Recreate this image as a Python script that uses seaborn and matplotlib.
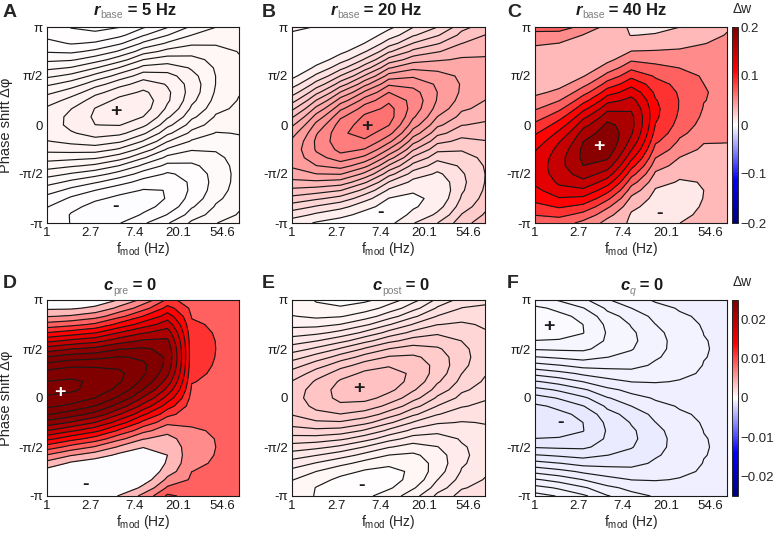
import numpy as np
import matplotlib
matplotlib.use("Agg")
import matplotlib.pyplot as plt
import seaborn as sns
from matplotlib.colors import LinearSegmentedColormap, Normalize
from matplotlib.cm import ScalarMappable
from matplotlib.transforms import IdentityTransform

sns.set_theme(style="ticks")
plt.rcParams['font.family'] = ['Liberation Sans', 'DejaVu Sans']
plt.rcParams['mathtext.fontset'] = 'custom'
plt.rcParams['mathtext.rm'] = 'Liberation Sans'
plt.rcParams['mathtext.it'] = 'Liberation Sans:italic'
plt.rcParams['mathtext.bf'] = 'Liberation Sans:bold'

# ---------------- data ----------------
f_mod_hz = [1.0, 1.73, 3.0, 5.2, 9.0, 15.6, 27.1, 47.0, 80.0]   # frequency nodes
phase_rows = np.linspace(-np.pi, np.pi, 25)                      # phase grid rows

x_tick_vals = [1.0, 2.718, 7.389, 20.09, 54.6]
x_tick_labels = ['1', '2.7', '7.4', '20.1', '54.6']
x_minor_vals = [1.649, 4.482, 12.18, 33.12]
y_tick_vals = [-np.pi, -np.pi / 2, 0.0, np.pi / 2, np.pi]
y_tick_labels = ['-π', '-π/2', '0', 'π/2', 'π']

# per frequency node: value on the ridge (max over phase), value in the basin
# (min over phase) and phase of the ridge (rad)
A_unit = 7e-4
A_ridge = [8.6, 9.3, 10.2, 10.6, 10.5, 9.2, 7.5, 6.0, 5.2]
A_basin = [0.6, -0.1, -0.5, -0.6, -0.4, 0.0, 1.2, 2.4, 3.4]
A_theta = [0.05, 0.15, 0.28, 0.45, 0.70, 0.95, 1.20, 1.45, 1.60]
A_levels = [0, 1, 2, 3, 4, 5, 6, 7, 8, 9, 10]

B_unit = 1e-3
B_ridge = [42.5, 51.0, 59.5, 62.5, 62.0, 53.0, 45.0, 39.5, 37.0]
B_basin = [-1.0, 0.0, 1.0, 1.75, 2.0, 4.0, 6.0, 14.0, 20.0]
B_theta = [-0.90, -0.60, -0.35, -0.05, 0.35, 0.70, 1.00, 1.30, 1.50]
B_levels = [5, 10, 15, 20, 25, 30, 35, 40, 45, 50, 55, 60]

C_unit = 1e-3
C_ridge = [128, 155, 186, 196, 166, 104, 79, 61, 55]
C_basin = [24, 23, 22, 22, 16, 10, 12, 20, 30]
C_theta = [-1.40, -1.25, -0.92, -0.50, 0.05, 0.45, 0.70, 1.00, 1.20]
C_levels = [20, 40, 60, 80, 100, 120, 140, 160, 180]

D_unit = 1e-3
D_ridge = [33.0, 33.0, 32.0, 30.5, 28.0, 24.5, 11.0, 10.0, 10.0]
D_basin = [-0.5, -1.5, -1.5, -1.0, 0.0, 2.5, 7.0, 7.5, 7.5]
D_theta = [0.30, 0.40, 0.50, 0.70, 0.95, 1.30, 1.50, 1.60, 1.60]
D_levels = [2.5, 5, 7.5, 10, 12.5, 15, 17.5, 20, 22.5, 25, 27.5, 30, 32.5]

E_unit = 1e-4
E_ridge = [28.8, 31.8, 34.2, 35.1, 34.5, 32.4, 28.8, 24.9, 22.2]
E_basin = [4.5, 2.7, 1.5, 1.2, 1.8, 3.6, 7.5, 11.4, 13.5]
E_theta = [0.00, 0.10, 0.22, 0.38, 0.58, 0.80, 1.05, 1.30, 1.45]
E_levels = [3, 6, 9, 12, 15, 18, 21, 24, 27, 30, 33]

F_unit = 1e-4
F_ridge = [-2.7, -3.0, -3.45, -4.6, -5.3, -6.2, -6.9, -7.45, -7.7]
F_basin = [-13.3, -13.0, -12.55, -11.4, -10.7, -9.8, -9.1, -8.55, -8.3]
F_theta = [2.40, 2.32, 2.20, 2.05, 1.90, 1.78, 1.68, 1.60, 1.55]
F_levels = [-12.5, -11.5, -10.5, -9.5, -8.5, -7.5, -6.5, -5.5, -4.5, -3.5]

# marker positions (Hz, rad)
A_plus, A_minus = (4.85, 0.42), (4.8, -2.62)
B_plus, B_minus = (5.4, -0.05), (7.4, -2.80)
C_plus, C_minus = (4.26, -0.69), (17.3, -2.85)
D_plus, D_minus = (1.35, 0.18), (2.39, -2.78)
E_plus, E_minus = (4.6, 0.30), (4.8, -2.80)
F_plus, F_minus = (1.38, 2.30), (1.77, -0.77)

titles = [("r", "base", " = 5 Hz"), ("r", "base", " = 20 Hz"), ("r", "base", " = 40 Hz"),
          ("c", "pre", " = 0"), ("c", "post", " = 0"), ("c", "q", " = 0")]
title_centers_px = [135, 376, 621, 130, 401, 642]
letters = ["A", "B", "C", "D", "E", "F"]
letter_x_px = [3, 262, 507, 3, 262, 507]

panels = [
    (A_ridge, A_basin, A_theta, A_levels, A_unit, A_plus, A_minus, 'k'),
    (B_ridge, B_basin, B_theta, B_levels, B_unit, B_plus, B_minus, 'k'),
    (C_ridge, C_basin, C_theta, C_levels, C_unit, C_plus, C_minus, 'w'),
    (D_ridge, D_basin, D_theta, D_levels, D_unit, D_plus, D_minus, 'w'),
    (E_ridge, E_basin, E_theta, E_levels, E_unit, E_plus, E_minus, 'k'),
    (F_ridge, F_basin, F_theta, F_levels, F_unit, F_plus, F_minus, 'k'),
]

# ---------------- figure ----------------
W, H = 780, 537
fig = plt.figure(figsize=(W / 100, H / 100), dpi=100)

cmap = LinearSegmentedColormap.from_list(
    "bwr_dark", [(0.0, (0, 0, 0.5)), (0.22, (0, 0, 1)), (0.5, (1, 1, 1)),
                 (0.78, (1, 0, 0)), (1.0, (0.5, 0, 0))])
norms = [Normalize(-0.2, 0.2), Normalize(-0.025, 0.025)]

col_px = [(47, 239), (292, 485), (535, 727)]
row_px = [(27, 223), (300, 496)]


def px_axes(x0, x1, y0, y1):
    return fig.add_axes([x0 / W, 1 - y1 / H, (x1 - x0) / W, (y1 - y0) / H])


def rich_title(xc, base, parts):
    renderer = fig.canvas.get_renderer()
    items, total = [], 0.0
    for s, kw, dy in parts:
        t = fig.text(0, 0, s, transform=IdentityTransform(), ha='left', va='baseline', **kw)
        w = t.get_window_extent(renderer).width
        items.append((t, w, dy))
        total += w
    x = xc - total / 2
    for t, w, dy in items:
        t.set_position((x, H - (base + dy)))
        x += w


F_grid, P_grid = np.meshgrid(f_mod_hz, phase_rows)

for i, (ridge, basin, theta, levels, unit, plus, minus, pcol) in enumerate(panels):
    row, col = divmod(i, 3)
    (x0, x1), (y0, y1) = col_px[col], row_px[row]
    ax = px_axes(x0, x1, y0, y1)
    r = np.asarray(ridge) * unit
    b = np.asarray(basin) * unit
    th = np.asarray(theta)
    Z = (r + b)[None, :] / 2 + (r - b)[None, :] / 2 * np.cos(P_grid - th[None, :])
    lv = np.asarray(levels, float) * unit
    step = lv[1] - lv[0]
    fill_lv = np.concatenate([[min(Z.min(), lv[0]) - step * 0.5], lv,
                              [max(Z.max(), lv[-1]) + step * 0.5]])
    ax.contourf(F_grid, P_grid, Z, levels=fill_lv, cmap=cmap, norm=norms[row])
    ax.contour(F_grid, P_grid, Z, levels=lv, colors='k', linewidths=0.85,
               linestyles='solid')
    ax.set_xscale('log')
    ax.set_xlim(1.0, 79.8)
    ax.set_ylim(-np.pi, np.pi)
    ax.set_xticks(x_tick_vals)
    ax.set_xticklabels(x_tick_labels)
    ax.set_xticks(x_minor_vals, minor=True)
    ax.xaxis.set_minor_formatter(matplotlib.ticker.NullFormatter())
    ax.set_yticks(y_tick_vals)
    ax.set_yticklabels(y_tick_labels)
    ax.tick_params(which='both', direction='in', top=True, right=True, length=3,
                   width=0.6, labelsize=9.5, pad=3, colors='k')
    for s in ax.spines.values():
        s.set_linewidth(0.8)
        s.set_color('k')
    ax.set_xlabel(r'f$_{\mathrm{mod}}$ (Hz)', fontsize=10)
    ax.xaxis.set_label_coords(0.5, -0.085)
    if col == 0:
        ax.set_ylabel('Phase shift Δφ', fontsize=10.5)
        ax.yaxis.set_label_coords(-0.178, 0.5)
    ax.text(plus[0], plus[1], '+', ha='center', va='center', fontsize=14,
            fontweight='bold', color=pcol)
    ax.text(minus[0], minus[1], '-', ha='center', va='center', fontsize=14,
            fontweight='bold', color='k')

    sym, sub, rest = titles[i]
    base = 15 if row == 0 else 290
    rich_title(title_centers_px[i], base,
               [(sym, dict(fontsize=12, fontweight='bold', fontstyle='italic', color='k'), 0),
                (sub, dict(fontsize=7.5, color='0.5',
                           fontstyle='italic' if sub == 'q' else 'normal'), 3.5),
                (rest, dict(fontsize=12, fontweight='bold', color='k'), 0)])
    fig.text(letter_x_px[i] / W, 1 - (17 if row == 0 else 288) / H, letters[i],
             fontsize=14, fontweight='bold', va='baseline')

# colorbars
cb_ticks = [[0.2, 0.1, 0.0, -0.1, -0.2], [0.02, 0.01, 0.0, -0.01, -0.02]]
cb_labels = [['0.2', '0.1', '0', '−0.1', '−0.2'], ['0.02', '0.01', '0', '−0.01', '−0.02']]
for row in range(2):
    y0, y1 = row_px[row]
    cax = px_axes(732, 738, y0, y1)
    sm = ScalarMappable(norm=norms[row], cmap=cmap)
    cb = fig.colorbar(sm, cax=cax)
    cb.set_ticks(cb_ticks[row])
    cb.set_ticklabels(cb_labels[row])
    cb.outline.set_linewidth(0.7)
    cax.tick_params(direction='in', left=True, right=True, length=2, width=0.5,
                    labelsize=9.5, pad=2)
    fig.text(733 / W, 1 - (y0 - 14) / H, 'Δw', fontsize=10, va='baseline')

fig.savefig("out.png", dpi=100)
